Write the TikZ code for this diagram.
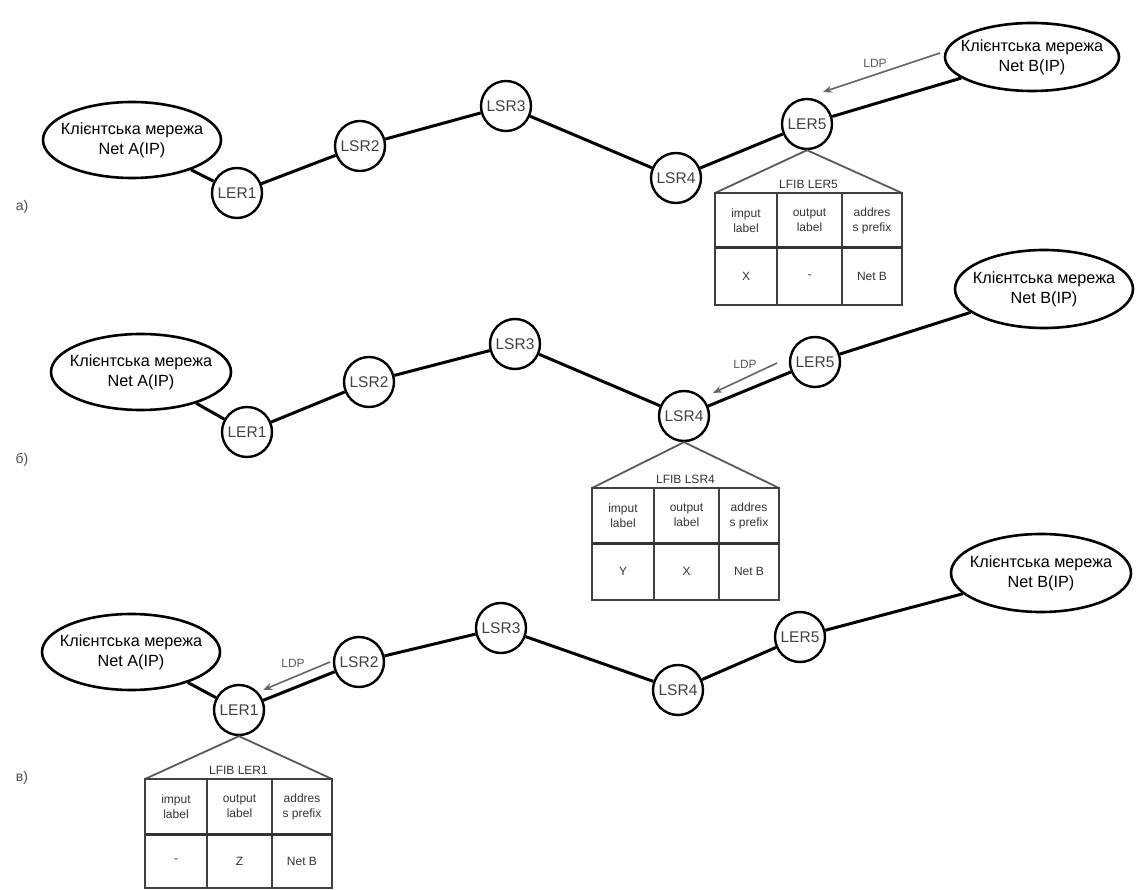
\documentclass[tikz,border=0pt]{standalone}
\usepackage{fontspec}
\setmainfont{Liberation Sans}
\usetikzlibrary{shapes.geometric,arrows.meta}

\tikzset{
  net/.style={ellipse, draw, line width=2.6pt, inner sep=0pt},
  nettext/.style={align=center, inner sep=0pt, font=\fontsize{16.2}{20}\selectfont},
  router/.style={circle, draw, line width=2.4pt, minimum size=50pt, inner sep=0pt,
    font=\fontsize{15.5}{16}\selectfont, text=black!75},
  link/.style={line width=3pt},
  ldp/.style={draw=black!60, line width=1.6pt, -{Stealth[length=9pt,width=7pt]}},
  ldptext/.style={font=\fontsize{12}{12}\selectfont, text=black!65},
  tri/.style={draw=black!65, line width=1.8pt},
  tbl/.style={draw=black!75, line width=2pt},
  tblsep/.style={draw=black!80, line width=3pt},
  cell/.style={font=\fontsize{12}{15}\selectfont, align=center, text=black!80},
  partlabel/.style={font=\fontsize{14}{14}\selectfont, text=black!70},
}

% client network: ellipse of fixed size with its two-line caption
% #1 name, #2 position, #3 width, #4 height, #5 network name
\newcommand{\clientnet}[5]{%
  \node[net, minimum width=#3pt, minimum height=#4pt,
        label={[nettext]center:Клієнтська мережа\\#5}] (#1) at (#2) {};}

% LFIB table hanging under a router:
% #1 router node, #2 left x, #3 top y, #4 title, #5 input label,
% #6 output label, #7 name prefix, #8 data row height
\newcommand{\lfibtable}[8]{%
  \begin{scope}[shift={(#2,#3)}]
    \coordinate (#7tl) at (0,0);
    \coordinate (#7tr) at (187,0);
    \draw[tri] (#7tl) -- (#1.south) -- (#7tr);
    \node[cell] (#7title) at (93.5,-9) {#4};
    \draw[tbl] (0,0) rectangle (187,55+#8);
    \draw[tbl] (62,0) -- (62,55+#8) (127,0) -- (127,55+#8);
    \draw[tblsep] (0,55) -- (187,55);
    \node[cell] (#7hin)  at (31,27.5)   {imput\\label};
    \node[cell] (#7hout) at (94.5,27.5) {output\\label};
    \node[cell] (#7hpre) at (157,27.5)  {addres\\s prefix};
    \node[cell] (#7din)  at (31,55+#8/2)   {#5};
    \node[cell] (#7dout) at (94.5,55+#8/2) {#6};
    \node[cell] (#7dpre) at (157,55+#8/2)  {Net B};
  \end{scope}}

\begin{document}
\begin{tikzpicture}[x=1pt, y=-1pt]
\useasboundingbox (0,0) rectangle (1136,890);

% ---------- а) ----------
\node[partlabel] (pa) at (22,207) {а)};
\clientnet{na1}{132,140}{178}{76}{Net A(IP)}
\node[router] (a1) at (237,193) {LER1};
\node[router] (a2) at (360,146) {LSR2};
\node[router] (a3) at (506,106) {LSR3};
\node[router] (a4) at (676,178) {LSR4};
\node[router] (a5) at (807,124) {LER5};
\clientnet{nb1}{1032,57}{174}{68}{Net B(IP)}
\draw[link] (na1) -- (a1) -- (a2) -- (a3) -- (a4) -- (a5) -- (nb1);
\coordinate (lda1) at (940,53);
\coordinate (lda2) at (823,92);
\draw[ldp] (lda1) -- (lda2);
\node[ldptext] (ldpa) at (875,63) {LDP};
\lfibtable{a5}{715}{193}{LFIB LER5}{X}{-}{ta}{57}

% ---------- б) ----------
\node[partlabel] (pb) at (22,460) {б)};
\clientnet{na2}{141,372}{180}{76}{Net A(IP)}
\node[router] (b1) at (247,432) {LER1};
\node[router] (b2) at (369,382) {LSR2};
\node[router] (b3) at (515,344) {LSR3};
\node[router] (b4) at (684,416) {LSR4};
\node[router] (b5) at (815,362) {LER5};
\clientnet{nb2}{1044,289}{178}{78}{Net B(IP)}
\draw[link] (na2) -- (b1) -- (b2) -- (b3) -- (b4) -- (b5) -- (nb2);
\coordinate (ldb1) at (777,363);
\coordinate (ldb2) at (713,393);
\draw[ldp] (ldb1) -- (ldb2);
\node[ldptext] (ldpb) at (745,364) {LDP};
\lfibtable{b4}{592}{488}{LFIB LSR4}{Y}{X}{tb}{57}

% ---------- в) ----------
\node[partlabel] (pc) at (22,778) {в)};
\clientnet{na3}{131,652}{178}{76}{Net A(IP)}
\node[router] (c1) at (239,710) {LER1};
\node[router] (c2) at (359,662) {LSR2};
\node[router] (c3) at (501,628) {LSR3};
\node[router] (c4) at (678,690) {LSR4};
\node[router] (c5) at (800,637) {LER5};
\clientnet{nb3}{1041,573}{180}{78}{Net B(IP)}
\draw[link] (na3) -- (c1) -- (c2) -- (c3) -- (c4) -- (c5) -- (nb3);
\coordinate (ldc1) at (330,662);
\coordinate (ldc2) at (263,690);
\draw[ldp] (ldc1) -- (ldc2);
\node[ldptext] (ldpc) at (293,663) {LDP};
\lfibtable{c1}{145}{779}{LFIB LER1}{-}{Z}{tc}{54}

\end{tikzpicture}
\end{document}
